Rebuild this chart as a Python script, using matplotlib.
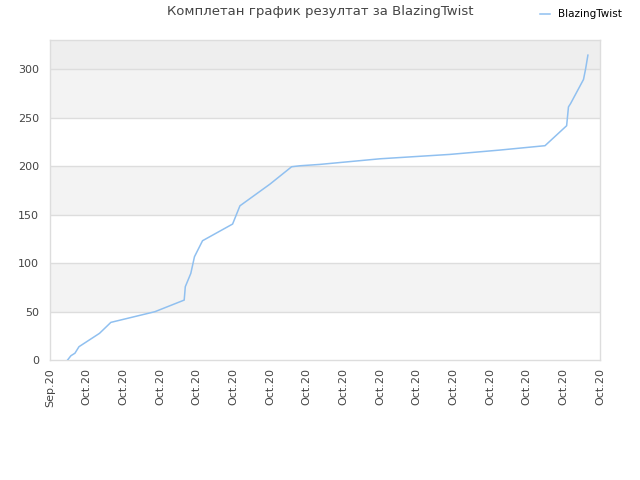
import matplotlib
matplotlib.use("Agg")
import matplotlib.pyplot as plt

# data (x in tick-interval units, 0 = first tick "Sep.20")
x_vals = [0.48, 0.57, 0.68, 0.79, 1.35, 1.66, 2.86, 3.66, 3.69, 3.84, 3.94, 4.16,
          4.98, 5.18, 6.0, 6.59, 6.82, 7.36, 9.0, 10.9, 12.27, 13.5, 14.09, 14.14,
          14.2, 14.55, 14.61, 14.67]
y_vals = [0, 4.4, 7, 13.7, 27.5, 38.8, 49.8, 61.8, 75.6, 89.3, 106.5, 123,
          140.2, 159, 181.4, 199.3, 200.3, 201.7, 207.5, 212, 216.5, 221, 241.6, 261,
          264.6, 289.3, 300.7, 314.4]
tick_labels = ["Sep.20"] + ["Oct.20"] * 15
y_ticks = [0, 50, 100, 150, 200, 250, 300]
series_name = "BlazingTwist"
title = "Комплетан график резултат за BlazingTwist"

fig = plt.figure(figsize=(6.4, 4.8), dpi=100)
ax = fig.add_axes([50/640, 120/480, 550/640, 320/480])
ax.set_xlim(0, 15)
ax.set_ylim(0, 330)

# bands
bands = [(0, 50, "#ffffff"), (50, 100, "#f3f3f3"), (100, 150, "#ffffff"),
         (150, 200, "#f3f3f3"), (200, 250, "#ffffff"), (250, 300, "#f3f3f3"),
         (300, 330, "#eeeeee")]
for lo, hi, c in bands:
    ax.axhspan(lo, hi, color=c, zorder=0, lw=0)
for yt in y_ticks[1:]:
    ax.axhline(yt, color="#dddddd", lw=1, zorder=1)

ax.plot(x_vals, y_vals, color="#90c0f0", lw=1.1, zorder=3, label=series_name)

ax.set_xticks(range(16))
ax.set_xticklabels(tick_labels, rotation=90, fontsize=8, color="#444444")
ax.set_yticks(y_ticks)
ax.set_yticklabels([str(v) for v in y_ticks], fontsize=8, color="#444444")
ax.tick_params(length=0, pad=8)
ax.tick_params(axis="x", pad=6)
for s in ax.spines.values():
    s.set_color("#dddddd")
    s.set_linewidth(1)

fig.text(320/640, 1 - 12/480, title, ha="center", va="center", fontsize=9.5, color="#444444")
leg = fig.legend(loc="upper right", bbox_to_anchor=(0.987, 1.0), frameon=False, fontsize=7.5,
                 handlelength=1.0, handletextpad=0.8)

fig.savefig("out.png", dpi=100)
